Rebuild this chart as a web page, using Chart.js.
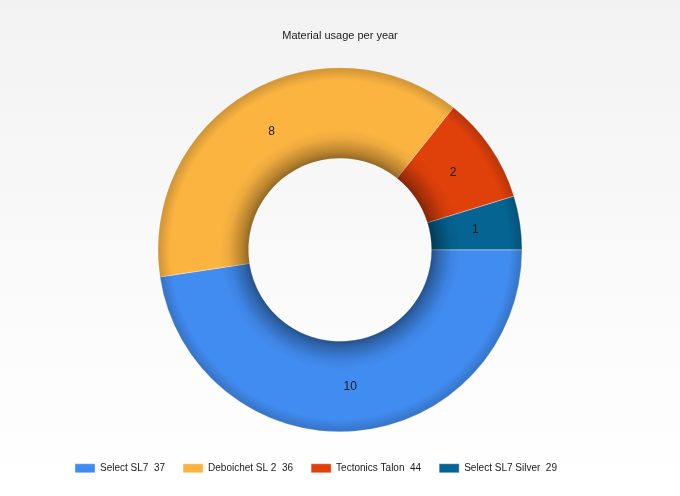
<!DOCTYPE html>
<html>
<head>
<meta charset="utf-8">
<script src="https://cdn.jsdelivr.net/npm/chart.js@4/dist/chart.umd.min.js"></script>
<style>
  html, body { margin: 0; padding: 0; }
  body { width: 680px; height: 496px; background: linear-gradient(to bottom, #f2f2f2 0%, #fafafa 55%, #ffffff 100%); }
  #wrap { position: relative; width: 680px; height: 496px; }
</style>
</head>
<body>
<div id="wrap"><canvas id="usageChart"></canvas></div>
<script>
// legend text as shown on the chart
const materialLabels = ["Select SL7  37", "Deboichet SL 2  36", "Tectonics Talon  44", "Select SL7 Silver  29"];
const usageValues = [10, 8, 2, 1];
const sliceColors = ["#418CF0", "#FCB441", "#E0400A", "#056492"];
const chartTitle = "Material usage per year";

// soft edge look: darker near the hole and a bit darker near the rim
const softEdge = {
  id: "softEdge",
  afterDatasetsDraw(chart) {
    const ctx = chart.ctx;
    const meta = chart.getDatasetMeta(0);
    meta.data.forEach((arc) => {
      const { x, y, startAngle, endAngle, innerRadius, outerRadius } = arc.getProps(
        ["x", "y", "startAngle", "endAngle", "innerRadius", "outerRadius"], true);
      ctx.save();
      ctx.beginPath();
      ctx.arc(x, y, outerRadius, startAngle, endAngle);
      ctx.arc(x, y, innerRadius, endAngle, startAngle, true);
      ctx.closePath();
      ctx.clip();
      const g = ctx.createRadialGradient(x, y, innerRadius, x, y, outerRadius);
      g.addColorStop(0, "rgba(0,0,0,0.42)");
      g.addColorStop(0.08, "rgba(0,0,0,0.26)");
      g.addColorStop(0.22, "rgba(0,0,0,0.06)");
      g.addColorStop(0.32, "rgba(0,0,0,0)");
      g.addColorStop(0.86, "rgba(0,0,0,0)");
      g.addColorStop(1, "rgba(0,0,0,0.18)");
      ctx.fillStyle = g;
      ctx.fillRect(x - outerRadius, y - outerRadius, outerRadius * 2, outerRadius * 2);
      ctx.restore();
    });
  },
};

// value in the middle of each slice
const sliceValues = {
  id: "sliceValues",
  afterDatasetsDraw(chart) {
    const ctx = chart.ctx;
    const meta = chart.getDatasetMeta(0);
    ctx.save();
    ctx.font = "12px 'Liberation Sans', Arial, sans-serif";
    ctx.fillStyle = "#1a1a1a";
    ctx.textAlign = "center";
    ctx.textBaseline = "middle";
    meta.data.forEach((arc, i) => {
      const pos = arc.tooltipPosition(true);
      ctx.fillText(String(usageValues[i]), pos.x, pos.y);
    });
    ctx.restore();
  },
};

// the legend row sits a bit left of centre in the original
const legendShift = {
  id: "legendShift",
  afterLayout(chart) {
    if (chart.legend) {
      chart.legend.left -= 24;
      chart.legend.right -= 24;
    }
  },
};

const ctx = document.getElementById("usageChart").getContext("2d");
new Chart(ctx, {
  type: "doughnut",
  data: {
    labels: materialLabels,
    datasets: [
      {
        data: usageValues,
        backgroundColor: sliceColors,
        borderWidth: 1,
        borderColor: "rgba(255,255,255,0.35)",
        radius: 182,
        cutout: "50.3%",
      },
    ],
  },
  options: {
    responsive: true,
    maintainAspectRatio: false,
    animation: false,
    rotation: 90,
    layout: { padding: { top: 0, bottom: 12.7, left: 0, right: 0 } },
    plugins: {
      title: {
        display: true,
        text: chartTitle,
        color: "#1a1a1a",
        font: { family: "'Liberation Sans', Arial, sans-serif", size: 11, weight: "normal" },
        padding: { top: 29, bottom: 12.1 },
      },
      legend: {
        position: "bottom",
        labels: {
          boxWidth: 20,
          boxHeight: 9,
          padding: 18,
          color: "#1a1a1a",
          font: { family: "'Liberation Sans', Arial, sans-serif", size: 10 },
        },
      },
      tooltip: { enabled: false },
    },
  },
  plugins: [softEdge, sliceValues, legendShift],
});
</script>
</body>
</html>
